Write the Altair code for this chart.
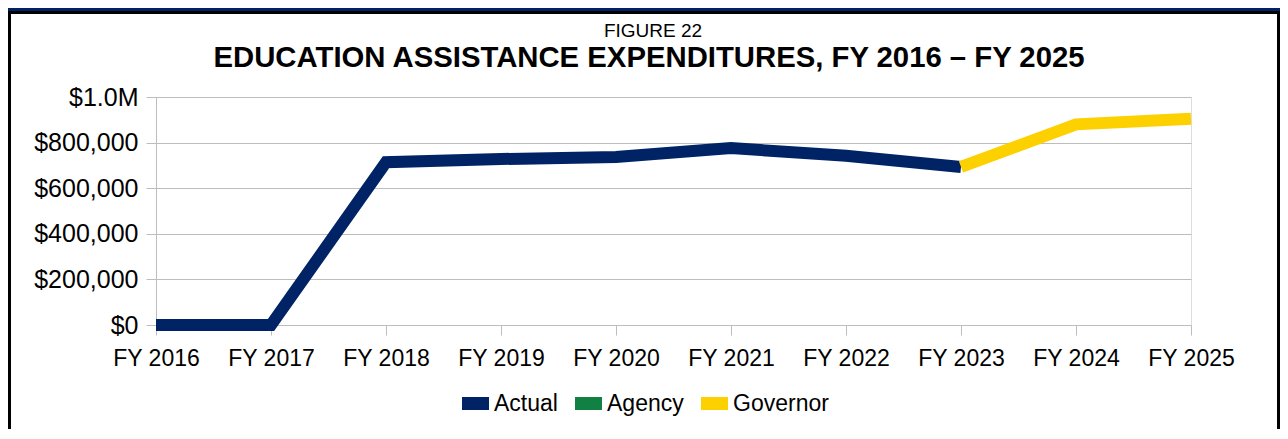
import altair as alt
import pandas as pd

years = ["FY 2016", "FY 2017", "FY 2018", "FY 2019", "FY 2020",
         "FY 2021", "FY 2022", "FY 2023", "FY 2024", "FY 2025"]
actual_years = years[:8]
actual_values = [0, 0, 714000, 728000, 737000, 776000, 742000, 693000]
governor_years = years[7:]
governor_values = [693000, 880000, 905000]
series_names = ["Actual", "Agency", "Governor"]
series_colors = ["#002366", "#108043", "#FDD000"]
y_ticks = [0, 200000, 400000, 600000, 800000, 1000000]
fig_label = "FIGURE 22"
title_text = "EDUCATION ASSISTANCE EXPENDITURES, FY 2016 \u2013 FY 2025"

FONT = "Liberation Sans"
GRID = "#bdbdbd"

rows = []
for yv, v in zip(actual_years, actual_values):
    rows.append({"year": yv, "value": v, "series": "Actual"})
for yv, v in zip(governor_years, governor_values):
    rows.append({"year": yv, "value": v, "series": "Governor"})
df = pd.DataFrame(rows)

W, H = 1035, 228
PL, PT, PR, PB = 148, 89, 89, 104

lines = alt.Chart(df).mark_line(strokeWidth=12, strokeJoin="miter").encode(
    x=alt.X("year:N", sort=years, scale=alt.Scale(type="point", padding=0, domain=years),
            axis=alt.Axis(title=None, labelAngle=0, labelFontSize=23, labelColor="black",
                          labelFont=FONT, tickSize=10, tickColor=GRID, domainColor=GRID,
                          labelPadding=12, grid=False)),
    y=alt.Y("value:Q", scale=alt.Scale(domain=[0, 1000000], nice=False),
            axis=alt.Axis(title=None, values=y_ticks, labelFontSize=25, labelColor="black",
                          labelFont=FONT, tickSize=10, tickColor=GRID, domainColor=GRID,
                          gridColor=GRID, labelPadding=8,
                          labelExpr="datum.value == 1000000 ? '$1.0M' : '$' + format(datum.value, ',')")),
    color=alt.Color("series:N", scale=alt.Scale(domain=series_names, range=series_colors),
                    legend=alt.Legend(title=None, orient="none", direction="horizontal",
                                      legendX=306, legendY=293, padding=0, gridAlign="none",
                                      symbolType="M-1,-0.317L1,-0.317L1,0.317L-1,0.317Z",
                                      symbolSize=420.25, symbolStrokeWidth=6.5,
                                      labelFontSize=23, labelFont=FONT, labelColor="black",
                                      labelOffset=5, columnPadding=7)),
    detail="series:N",
    order=alt.Order("idx:Q"),
).transform_calculate(idx="indexof(" + str(years) + ", datum.year)")

one = pd.DataFrame({"fig": [fig_label], "title": [title_text]})

fig_txt = alt.Chart(one).mark_text(font=FONT, fontSize=19, color="black",
                                   align="center", baseline="alphabetic").encode(
    text="fig:N", x=alt.value(497), y=alt.value(-60))
title_txt = alt.Chart(one).mark_text(font=FONT, fontSize=29.3, fontWeight="bold", color="black",
                                     align="center", baseline="alphabetic").encode(
    text="title:N", x=alt.value(493), y=alt.value(-30))

# decorative frame
top_bar = alt.Chart(one).mark_rect(color="#002366").encode(
    x=alt.value(-PL), x2=alt.value(W + PR), y=alt.value(-PT), y2=alt.value(-PT + 3))
top_line = alt.Chart(one).mark_rect(color="black").encode(
    x=alt.value(-PL), x2=alt.value(W + PR), y=alt.value(-PT + 3), y2=alt.value(-PT + 6))
left_line = alt.Chart(one).mark_rect(color="black").encode(
    x=alt.value(-PL), x2=alt.value(-PL + 3), y=alt.value(-PT + 3), y2=alt.value(H + PB))
right_line = alt.Chart(one).mark_rect(color="black").encode(
    x=alt.value(W + PR - 3), x2=alt.value(W + PR), y=alt.value(-PT + 3), y2=alt.value(H + PB))

chart = alt.layer(lines, fig_txt, title_txt, top_bar, top_line, left_line, right_line).properties(
    width=W, height=H, autosize="none",
    padding={"left": PL, "top": PT, "right": PR, "bottom": PB},
).configure_view(stroke=GRID, strokeWidth=1).configure(background="white")

chart.save("out.html", embed_options={"renderer": "svg", "actions": False})
